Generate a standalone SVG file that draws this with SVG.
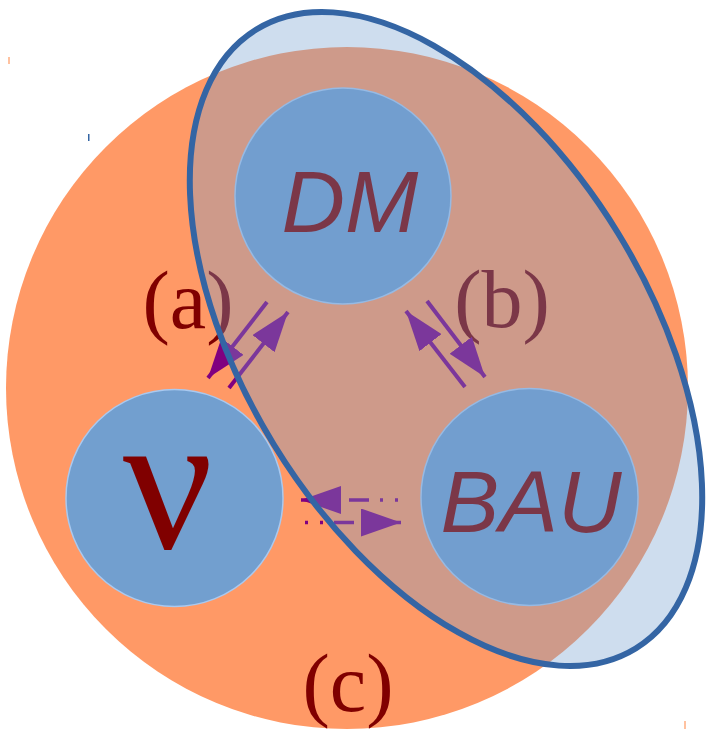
<svg xmlns="http://www.w3.org/2000/svg" width="706" height="730" viewBox="0 0 706 730">
  <defs>
    <marker id="ah" viewBox="0 0 40 28" refX="40" refY="14" markerWidth="40" markerHeight="28" markerUnits="userSpaceOnUse" orient="auto">
      <path d="M0,0 L40,14 L0,28 z" fill="#800080"/>
    </marker>
  </defs>
  <style>
    .node { fill: #729FCF; stroke: #A9C9F0; stroke-width: 1.5; }
    .hand { font-family: "Liberation Sans", "DejaVu Sans", sans-serif; font-style: italic; font-size: 88px; fill: #800000; text-anchor: middle; }
    .lab { font-family: "Liberation Serif", "DejaVu Serif", serif; font-size: 82px; fill: #800000; text-anchor: middle; }
    .conn { stroke: #800080; stroke-width: 4; fill: none; marker-end: url(#ah); }
    .dash { stroke-width: 3.5; stroke-dasharray: 3 12 3 11 20 11; }
  </style>

  <g id="region-c">
    <circle cx="347" cy="388" r="341" fill="#FF9966"/>
    <text class="lab" x="348" y="711">(c)</text>
  </g>

  <g id="ticks">
    <rect x="8" y="57" width="2" height="7" fill="#FFC2A0"/>
    <rect x="88" y="134" width="1.5" height="7" fill="#3465A4"/>
    <rect x="684" y="721" width="2" height="8" fill="#FFC2A0"/>
  </g>

  <g id="labels-ab">
    <text class="lab" x="188" y="328">(a)</text>
    <text class="lab" x="502" y="327">(b)</text>
  </g>

  <g id="node-DM">
    <circle class="node" cx="343" cy="196" r="108"/>
    <text class="hand" x="350" y="232">DM</text>
  </g>

  <g id="node-nu">
    <circle class="node" cx="174.5" cy="498" r="108.5"/>
    <text x="168" y="548" font-family="Liberation Serif, DejaVu Serif, serif" font-size="200" fill="#800000" text-anchor="middle">ν</text>
  </g>

  <g id="node-BAU">
    <circle class="node" cx="529.5" cy="497" r="108.5"/>
    <text class="hand" x="531" y="532">BAU</text>
  </g>

  <g id="connectors">
    <path class="conn" d="M267,302 L208,378"/>
    <path class="conn" d="M229,388 L288,312"/>
    <path class="conn" d="M465,387 L406,311"/>
    <path class="conn" d="M427,301 L485,377"/>
    <path class="conn dash" d="M398,500 L301,500"/>
    <path class="conn dash" d="M305,522.5 L401,522.5"/>
  </g>

  <g id="region-b">
    <ellipse cx="446" cy="339" rx="363" ry="202" transform="rotate(58.5 446 339)" fill="#729FCF" fill-opacity="0.35" stroke="#3465A4" stroke-width="6"/>
  </g>
</svg>
